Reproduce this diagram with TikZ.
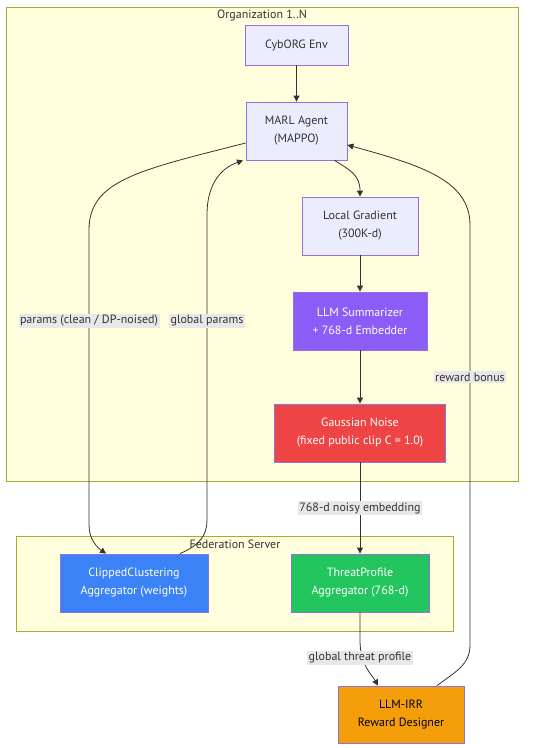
\documentclass[tikz,border=0pt]{standalone}
\usepackage{fontspec}
\setmainfont{PT Sans}
\usetikzlibrary{arrows.meta}
\definecolor{clfill}{HTML}{FFFFDE}
\definecolor{cldraw}{HTML}{AAAA33}
\definecolor{ndfill}{HTML}{ECECFF}
\definecolor{nddraw}{HTML}{9370DB}
\definecolor{edge}{HTML}{333333}
\definecolor{lblbg}{HTML}{E8E8E8}
\definecolor{cpurple}{HTML}{8B5CF6}
\definecolor{cred}{HTML}{EF4444}
\definecolor{cblue}{HTML}{3B82F6}
\definecolor{cgreen}{HTML}{22C55E}
\definecolor{corange}{HTML}{F59E0B}
\tikzset{
  cluster/.style={draw=cldraw, fill=clfill, line width=0.8pt},
  clabel/.style={text=edge, font=\fontsize{12}{14}\selectfont, inner sep=0pt},
  box/.style={draw=nddraw, line width=0.8pt, align=center, inner sep=0pt,
    font=\fontsize{12}{18}\selectfont},
  lightbox/.style={box, fill=ndfill, text=edge},
  colbox/.style={box, fill=#1, text=white},
  conn/.style={draw=edge, line width=0.8pt, -{Triangle[length=6pt,width=6pt]}},
  elabel/.style={fill=lblbg, text=edge, inner sep=1.5pt, font=\fontsize{12}{14}\selectfont}
}
\begin{document}
\begin{tikzpicture}[x=1pt,y=-1pt]
\useasboundingbox (0,0) rectangle (550,748);
\fill[white] (0,0) rectangle (550,748);
% clusters
\draw[cluster] (6,7) rectangle (518,481);
\node[clabel] (orglbl) at (262,15) {Organization 1..N};
\draw[cluster] (16,536) rectangle (453,631);
\node[clabel] (fedlbl) at (235,544) {Federation Server};
% nodes
\node[lightbox, minimum width=103pt, minimum height=40pt] (env) at (296.5,45) {CybORG Env};
\node[lightbox, minimum width=101pt, minimum height=58pt] (marl) at (296.5,131) {MARL Agent\\(MAPPO)};
\node[lightbox, minimum width=116pt, minimum height=58pt] (grad) at (360,226) {Local Gradient\\(300K-d)};
\node[colbox=cpurple, minimum width=134pt, minimum height=58pt] (summ) at (360,321) {LLM Summarizer\\+ 768-d Embedder};
\node[colbox=cred, minimum width=171pt, minimum height=58pt] (noise) at (360,433) {Gaussian Noise\\(fixed public clip C = 1.0)};
\node[colbox=cblue, minimum width=148pt, minimum height=58pt] (clip) at (134,583) {ClippedClustering\\Aggregator (weights)};
\node[colbox=cgreen, minimum width=138pt, minimum height=58pt] (threat) at (360,583) {ThreatProfile\\Aggregator (768-d)};
\node[box, fill=corange, text=black, minimum width=126pt, minimum height=57pt] (irr) at (401,714.5) {LLM-IRR\\Reward Designer};
% connectors
\draw[conn] (env) -- (marl);
\draw[conn] ([xshift=38pt]marl.south) .. controls (350,170) and (360,175) .. (grad.north);
\draw[conn] (grad) -- (summ);
\draw[conn] (summ) -- (noise);
\draw[conn] (noise) -- node[elabel, pos=0.5] (l768) {768-d noisy embedding} (threat);
% params
\coordinate (p1) at (89,230);
\coordinate (p2) at (89,525);
\draw[conn] ([yshift=-12pt]marl.west) .. controls (140,170) and (89,180) .. (p1) -- (p2)
   .. controls (89,540) and (98,548) .. ([xshift=-28pt]clip.north);
\node[elabel] (lparams) at (89,321) {params (clean / DP-noised)};
% global params
\coordinate (g1) at (207,520);
\coordinate (g2) at (207,215);
\draw[conn] ([xshift=46pt]clip.north) .. controls (200,545) and (207,535) .. (g1) -- (g2)
   .. controls (207,175) and (230,165) .. ([xshift=-53.5pt]marl.south);
\node[elabel] (lglobal) at (207,321) {global params};
% threat -> irr
\coordinate (t1) at (360,640);
\draw[conn] (threat.south) -- (t1) .. controls (360,665) and (372,675) .. ([xshift=-23pt]irr.north);
\node[elabel] (lthreat) at (360,658) {global threat profile};
% reward bonus
\coordinate (r1) at (470,645);
\coordinate (r2) at (470,225);
\draw[conn] ([xshift=36pt]irr.north) .. controls (455,672) and (470,665) .. (r1) -- (r2)
   .. controls (470,180) and (420,165) .. ([yshift=-14pt]marl.east);
\node[elabel] (lreward) at (470,377) {reward bonus};
\end{tikzpicture}
\end{document}
